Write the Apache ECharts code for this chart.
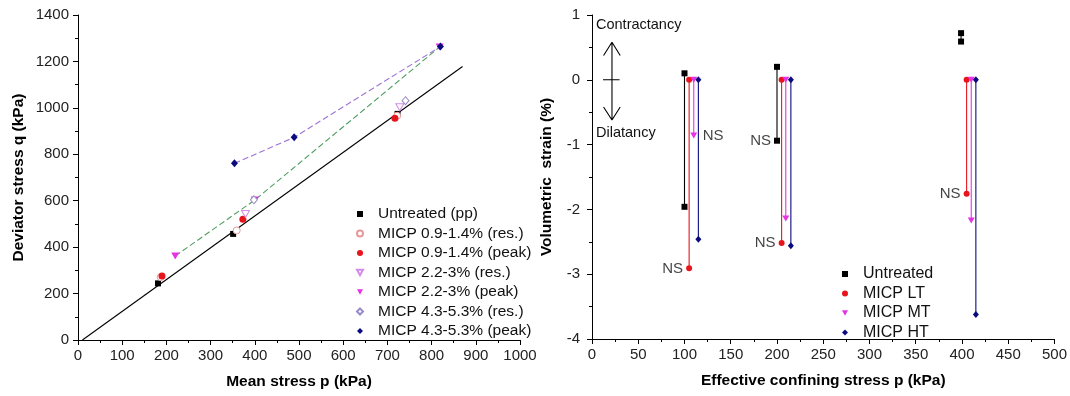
<!DOCTYPE html>
<html>
<head>
<meta charset="utf-8">
<script src="https://cdn.jsdelivr.net/npm/echarts@6/dist/echarts.min.js"></script>
<style>
html,body{margin:0;padding:0;background:#fff;}
#c{width:1070px;height:396px;}
</style>
</head>
<body>
<div id="c"></div>
<script>
// ---------- Left chart data: mean stress p (kPa) vs deviator stress q (kPa) ----------
const untreatedP = [181, 351, 723];
const untreatedQ = [244, 457, 974];
const lowResP = [187, 359, 722];
const lowResQ = [271, 472, 966];
const lowPeakP = [190, 373, 717];
const lowPeakQ = [276, 520, 955];
const midResP = [379, 728];
const midResQ = [543, 1003];
const midPeakP = [220, 400, 818];
const midPeakQ = [362, 603, 1262];
const highResP = [398, 741];
const highResQ = [604, 1031];
const highPeakP = [354, 489, 820];
const highPeakQ = [761, 873, 1264];
const failureLineP = [10, 870];
const failureLineQ = [0, 1178];

// ---------- Right chart data: confining stress p (kPa) vs volumetric strain (%) ----------
const untrP = [100, 200, 399];
const untrTop = [0.10, 0.20, 0.72];
const untrBot = [-1.96, -0.94, 0.59];
const ltP = [105, 205, 405];
const ltTop = [0, 0, 0];
const ltBot = [-2.91, -2.52, -1.76];
const mtP = [110, 209.5, 410];
const mtTop = [0, 0, 0];
const mtBot = [-0.86, -2.14, -2.17];
const htP = [115, 215, 415];
const htTop = [0, 0, 0];
const htBot = [-2.46, -2.56, -3.62];
// "NS" annotations (attached to points)
const nsP = [105, 110, 200, 205, 405];
const nsV = [-2.91, -0.86, -0.94, -2.52, -1.76];
const nsSide = ['left', 'right', 'left', 'left', 'left'];

const FONT = '"Liberation Sans", Arial, sans-serif';
const zip = (a, b) => a.map((v, i) => [v, b[i]]);
const drops = (p, t, b) => {
  const out = [];
  p.forEach((x, i) => { if (i) out.push([x, '-']); out.push([x, t[i]], [x, b[i]]); });
  return out;
};
const DOWN_TRI = 'path://M0,0L10,0L5,9Z';

const chart = echarts.init(document.getElementById('c'), null, {renderer: 'canvas'});

function valAxis(gi, min, max, interval, name, gap, labelMargin) {
  return {
    type: 'value', gridIndex: gi, min, max, interval,
    name, nameLocation: 'middle', nameGap: gap,
    nameTextStyle: {fontFamily: FONT, fontWeight: 'bold', fontSize: 15.5, color: '#000'},
    axisLine: {show: true, onZero: false, lineStyle: {color: '#000', width: 1}},
    axisTick: {show: true, length: 5, lineStyle: {color: '#000'}},
    minorTick: {show: true, splitNumber: 2, length: 3, lineStyle: {color: '#000'}},
    splitLine: {show: false},
    axisLabel: {fontFamily: FONT, fontSize: 15, color: '#222', margin: labelMargin,
                formatter: v => String(v)}
  };
}

const red = '#e8141c', magenta = '#e632e6', navy = '#0b0b7e';

const option = {
  animation: false,
  backgroundColor: '#fff',
  grid: [
    {left: 78, top: 15, width: 442, height: 325},
    {left: 592, top: 15, width: 463, height: 324}
  ],
  xAxis: [
    valAxis(0, 0, 1000, 100, 'Mean stress p (kPa)', 34, 8),
    valAxis(1, 0, 500, 50, 'Effective confining stress p (kPa)', 34, 8)
  ],
  yAxis: [
    valAxis(0, 0, 1400, 200, 'Deviator stress q (kPa)', 51, 9),
    valAxis(1, -4, 1, 1, 'Volumetric  strain (%)', 37, 12)
  ],
  legend: [
    {
      orient: 'vertical', left: 351, top: 201, itemWidth: 6, itemHeight: 6, itemGap: 3.5,
      textStyle: {fontFamily: FONT, fontSize: 15.5, color: '#111', lineHeight: 16, padding: [0, 0, 0, 10]},
      data: ['Untreated (pp)', 'MICP 0.9-1.4% (res.)', 'MICP 0.9-1.4% (peak)', 'MICP 2.2-3% (res.)',
             'MICP 2.2-3% (peak)', 'MICP 4.3-5.3% (res.)', 'MICP 4.3-5.3% (peak)']
    },
    {
      orient: 'vertical', left: 837, top: 261, itemWidth: 6, itemHeight: 6, itemGap: 3.5,
      textStyle: {fontFamily: FONT, fontSize: 16, color: '#111', lineHeight: 16, padding: [0, 0, 0, 10]},
      data: [
        {name: 'Untreated', icon: 'rect'},
        {name: 'MICP LT', icon: 'circle'},
        {name: 'MICP MT', icon: DOWN_TRI},
        {name: 'MICP HT', icon: 'diamond'}
      ]
    }
  ],
  graphic: [
    {type: 'text', left: 596, top: 17, style: {text: 'Contractancy', font: '14.5px ' + FONT, fill: '#111'}},
    {type: 'text', left: 596, top: 125, style: {text: 'Dilatancy', font: '14.5px ' + FONT, fill: '#111'}}
  ],
  series: [
    // left chart reference lines
    {type: 'line', xAxisIndex: 0, yAxisIndex: 0, data: zip(failureLineP, failureLineQ), showSymbol: false,
     lineStyle: {color: '#000', width: 1.1}, silent: true, z: 1},
    {type: 'line', xAxisIndex: 0, yAxisIndex: 0, data: zip(midPeakP, midPeakQ), showSymbol: false,
     lineStyle: {color: '#4f9d62', width: 1.1, type: [6, 3]}, silent: true, z: 1},
    {type: 'line', xAxisIndex: 0, yAxisIndex: 0, data: zip(highPeakP, highPeakQ), showSymbol: false,
     lineStyle: {color: '#9d74d6', width: 1.1, type: [6, 3]}, silent: true, z: 1},
    // left chart scatter
    {name: 'Untreated (pp)', type: 'scatter', xAxisIndex: 0, yAxisIndex: 0, data: zip(untreatedP, untreatedQ),
     symbol: 'rect', symbolSize: 6, itemStyle: {color: '#000', opacity: 1}},
    {name: 'MICP 0.9-1.4% (res.)', type: 'scatter', xAxisIndex: 0, yAxisIndex: 0, data: zip(lowResP, lowResQ),
     symbol: 'circle', symbolSize: 7, itemStyle: {color: '#fff', borderColor: '#e89a9a', borderWidth: 1, opacity: 1}},
    {name: 'MICP 0.9-1.4% (peak)', type: 'scatter', xAxisIndex: 0, yAxisIndex: 0, data: zip(lowPeakP, lowPeakQ),
     symbol: 'circle', symbolSize: 7, itemStyle: {color: red, opacity: 1}},
    {name: 'MICP 2.2-3% (res.)', type: 'scatter', xAxisIndex: 0, yAxisIndex: 0, data: zip(midResP, midResQ),
     symbol: DOWN_TRI, symbolSize: [8, 7], itemStyle: {color: '#fff', borderColor: '#d58ae8', borderWidth: 1, opacity: 1}},
    {name: 'MICP 2.2-3% (peak)', type: 'scatter', xAxisIndex: 0, yAxisIndex: 0, data: zip(midPeakP, midPeakQ),
     symbol: DOWN_TRI, symbolSize: [8, 7], itemStyle: {color: magenta, opacity: 1}},
    {name: 'MICP 4.3-5.3% (res.)', type: 'scatter', xAxisIndex: 0, yAxisIndex: 0, data: zip(highResP, highResQ),
     symbol: 'diamond', symbolSize: [7, 8], itemStyle: {color: '#fff', borderColor: '#9a8cc8', borderWidth: 1, opacity: 1}},
    {name: 'MICP 4.3-5.3% (peak)', type: 'scatter', xAxisIndex: 0, yAxisIndex: 0, data: zip(highPeakP, highPeakQ),
     symbol: 'diamond', symbolSize: [7, 8], itemStyle: {color: navy, opacity: 1}},

    // right chart annotation arrows
    {type: 'line', xAxisIndex: 1, yAxisIndex: 1, silent: true, showSymbol: false, z: 1,
     lineStyle: {color: '#000', width: 1.1},
     data: [[12.5, 0.376], [21.6, 0.58], [30.5, 0.376], [21.6, '-'], [21.6, 0.58], [21.6, -0.62], [12, '-'],
            [11.9, 0], [29.8, 0], [12, '-'], [12.5, -0.42], [21.6, -0.62], [30.5, -0.42]]},
    // right chart drop lines
    {name: 'Untreated', type: 'line', xAxisIndex: 1, yAxisIndex: 1, data: drops(untrP, untrTop, untrBot),
     symbol: 'rect', symbolSize: 6, showAllSymbol: true, lineStyle: {color: '#000', width: 1.1}, itemStyle: {color: '#000'}},
    {name: 'MICP LT', type: 'line', xAxisIndex: 1, yAxisIndex: 1, data: drops(ltP, ltTop, ltBot),
     symbol: 'circle', symbolSize: 6, showAllSymbol: true, lineStyle: {color: red, width: 1.1}, itemStyle: {color: red}},
    {name: 'MICP MT', type: 'line', xAxisIndex: 1, yAxisIndex: 1, data: drops(mtP, mtTop, mtBot),
     symbol: DOWN_TRI, symbolSize: [7, 6], showAllSymbol: true, lineStyle: {color: magenta, width: 1.1}, itemStyle: {color: magenta}},
    {name: 'MICP HT', type: 'line', xAxisIndex: 1, yAxisIndex: 1, data: drops(htP, htTop, htBot),
     symbol: 'diamond', symbolSize: [6, 7], showAllSymbol: true, lineStyle: {color: navy, width: 1.1}, itemStyle: {color: navy}},
    // NS labels
    {type: 'scatter', xAxisIndex: 1, yAxisIndex: 1, silent: true, symbolSize: 0,
     data: nsP.map((p, i) => ({value: [p, nsV[i]],
       label: {show: true, formatter: 'NS', position: nsSide[i], distance: nsSide[i] === 'right' ? 9 : 6,
               fontFamily: FONT, fontSize: 15, color: '#111'}}))}
  ]
};
chart.setOption(option);
</script>
</body>
</html>
